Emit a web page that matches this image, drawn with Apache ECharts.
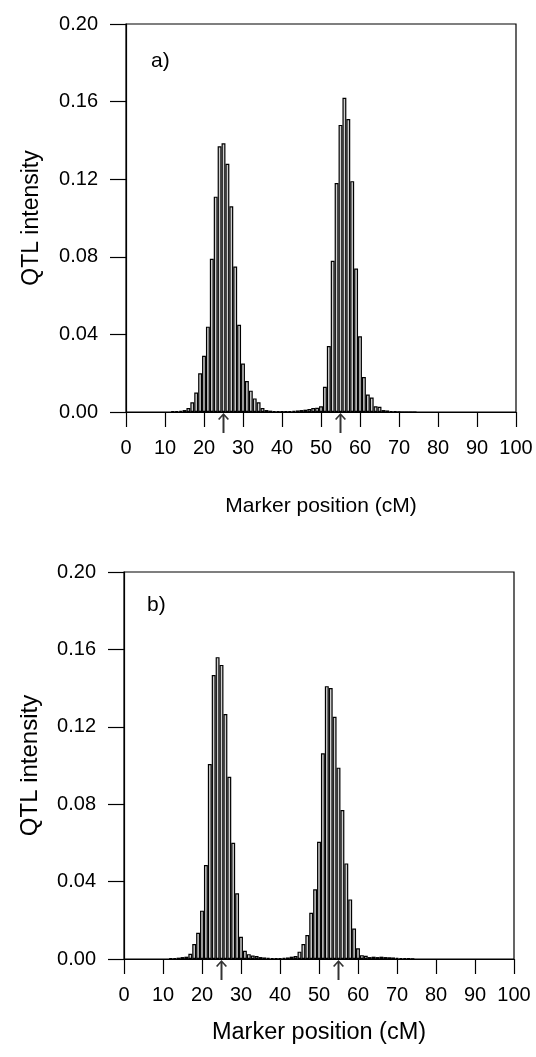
<!DOCTYPE html>
<html>
<head>
<meta charset="utf-8">
<script src="https://cdn.jsdelivr.net/npm/echarts@6/dist/echarts.min.js"></script>
<style>
  html, body { margin: 0; padding: 0; background: #fff; }
  #chart { width: 536px; height: 1057px; }
</style>
</head>
<body>
<div id="chart"></div>
<script>
// marker positions (cM) for both panels
var positions = [12, 13, 14, 15, 16, 17, 18, 19, 20, 21, 22, 23, 24, 25, 26, 27, 28, 29, 30,
  31, 32, 33, 34, 35, 36, 37, 38, 39, 40, 41, 42, 43, 44, 45, 46, 47, 48, 49, 50,
  51, 52, 53, 54, 55, 56, 57, 58, 59, 60, 61, 62, 63, 64, 65, 66, 67, 68, 69, 70,
  71, 72, 73, 74];

// QTL intensity, panel a)
var intensityA = [0.0003, 0.0004, 0.0006, 0.001, 0.002, 0.005, 0.010, 0.020, 0.029, 0.044,
  0.079, 0.111, 0.137, 0.1385, 0.128, 0.106, 0.075, 0.045, 0.025,
  0.016, 0.011, 0.007, 0.005, 0.002, 0.001, 0.0007, 0.0005, 0.0004, 0.0003,
  0.0003, 0.0004, 0.0006, 0.0008, 0.001, 0.0012, 0.0015, 0.002, 0.0022, 0.003,
  0.013, 0.034, 0.078, 0.118, 0.148, 0.162, 0.151, 0.119, 0.074, 0.039,
  0.018, 0.009, 0.0075, 0.003, 0.0027, 0.001, 0.0008, 0.0005, 0.0003, 0.0002,
  0, 0, 0, 0];

// QTL intensity, panel b)
var intensityB = [0.0003, 0.0005, 0.0007, 0.001, 0.0012, 0.0027, 0.0077, 0.0136, 0.025, 0.0486,
  0.1008, 0.1468, 0.156, 0.152, 0.1266, 0.0942, 0.0601, 0.034, 0.0115,
  0.0043, 0.0025, 0.0018, 0.0015, 0.001, 0.0008, 0.0006, 0.0005, 0.0004, 0.0004,
  0.0006, 0.0008, 0.0012, 0.0015, 0.0038, 0.0077, 0.0124, 0.0239, 0.036, 0.0606,
  0.1063, 0.141, 0.140, 0.1252, 0.0989, 0.077, 0.0494, 0.0308, 0.0157, 0.0055,
  0.002, 0.0017, 0.001, 0.0012, 0.001, 0.0012, 0.001, 0.0009, 0.0008, 0.0006,
  0.0005, 0.0004, 0.0003, 0.0002];

// true QTL positions (arrows)
var qtlPositions = [25, 55];

var panelLabels = ['a)', 'b)'];
var yTicks = [0, 0.04, 0.08, 0.12, 0.16, 0.20];

var FONT = 'Liberation Sans, Arial, sans-serif';

function pairs(xs, ys) {
  return xs.map(function (x, i) { return [x, ys[i]]; });
}

var chart = echarts.init(document.getElementById('chart'));

function xAxisFor(idx, nameSize, nameGap) {
  return {
    gridIndex: idx,
    type: 'value',
    min: 0,
    max: 100,
    interval: 10,
    name: 'Marker position (cM)',
    nameLocation: 'middle',
    nameGap: nameGap,
    nameTextStyle: { color: '#000', fontSize: nameSize, fontFamily: FONT },
    axisLine: { show: true, onZero: false, lineStyle: { color: '#000', width: 1.2 } },
    axisTick: { show: true, length: 15, lineStyle: { color: '#000', width: 1.2 } },
    axisLabel: { color: '#000', fontSize: 20, fontFamily: FONT, margin: 26 },
    splitLine: { show: false }
  };
}

function yAxisFor(idx, nameSize, nameGap) {
  return {
    gridIndex: idx,
    type: 'value',
    min: yTicks[0],
    max: yTicks[yTicks.length - 1],
    interval: 0.04,
    name: 'QTL intensity',
    nameLocation: 'middle',
    nameGap: nameGap,
    nameTextStyle: { color: '#000', fontSize: nameSize, fontFamily: FONT },
    axisLine: { show: true, lineStyle: { color: '#000', width: 1.2 } },
    axisTick: { show: true, length: 16, lineStyle: { color: '#000', width: 1.2 } },
    axisLabel: {
      color: '#000', fontSize: 20, fontFamily: FONT, margin: 28,
      formatter: function (v) { return v.toFixed(2); }
    },
    splitLine: { show: false }
  };
}

function barSeries(idx, values) {
  return {
    type: 'bar',
    xAxisIndex: idx,
    yAxisIndex: idx,
    data: pairs(positions, values),
    barWidth: 3.9,
    itemStyle: { color: '#cfcfcf', borderColor: '#000', borderWidth: 1.2 },
    silent: true
  };
}

function arrowSeries(idx) {
  return {
    type: 'scatter',
    xAxisIndex: idx,
    yAxisIndex: idx,
    data: qtlPositions.map(function (p) { return [p, 0]; }),
    symbol: 'path://M4.1,20 L4.1,3.2 L1.2,7 L0,6 L5,0 L10,6 L8.8,7 L5.9,3.2 L5.9,20 Z',
    symbolKeepAspect: false,
    symbolSize: [11, 20],
    symbolOffset: [0, 11],
    itemStyle: { color: '#000' },
    clip: false,
    z: 5,
    silent: true
  };
}

var option = {
  backgroundColor: '#fff',
  animation: false,
  title: [
    { text: panelLabels[0], left: 146, top: 46, textStyle: { color: '#000', fontSize: 21, fontWeight: 'normal', fontFamily: FONT } },
    { text: panelLabels[1], left: 142, top: 590, textStyle: { color: '#000', fontSize: 21, fontWeight: 'normal', fontFamily: FONT } }
  ],
  grid: [
    { left: 126, right: 20, top: 24, height: 388, show: true, borderColor: '#000', borderWidth: 1.2, backgroundColor: 'transparent' },
    { left: 124, right: 22, top: 572, height: 387, show: true, borderColor: '#000', borderWidth: 1.2, backgroundColor: 'transparent' }
  ],
  xAxis: [xAxisFor(0, 21, 84), xAxisFor(1, 23.5, 62)],
  yAxis: [yAxisFor(0, 23, 83), yAxisFor(1, 24, 82)],
  series: [
    barSeries(0, intensityA),
    arrowSeries(0),
    barSeries(1, intensityB),
    arrowSeries(1)
  ]
};

chart.setOption(option);
</script>
</body>
</html>
